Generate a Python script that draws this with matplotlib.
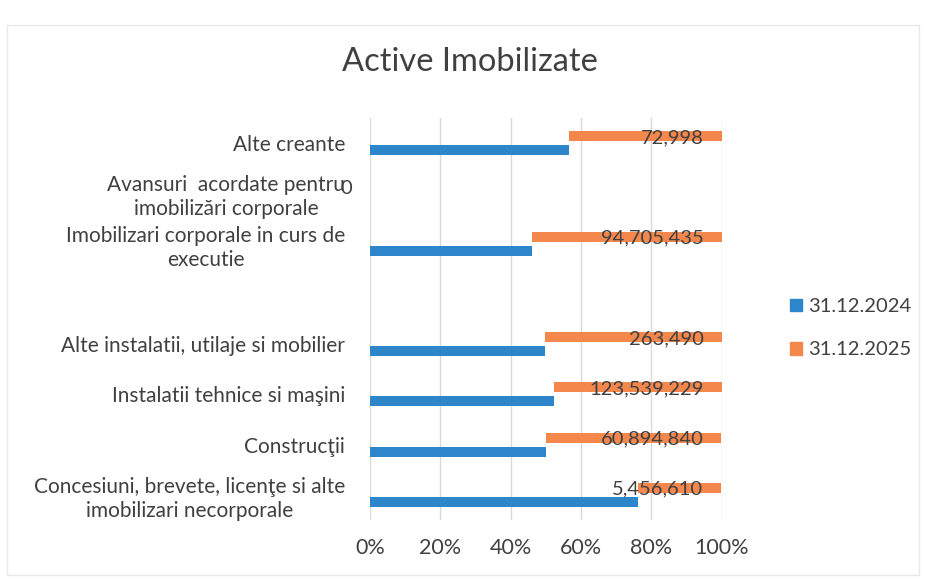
"""
Active Imobilizate - bare 100% suprapuse, 31.12.2024 vs 31.12.2025
"""
import matplotlib
matplotlib.use("Agg")
import matplotlib.pyplot as plt
import numpy as np
from matplotlib.patches import Patch, Rectangle

plt.rcParams["font.family"] = ["Lato", "DejaVu Sans"]

# categorii de jos in sus (ca pe axa)
categories = [
    "Concesiuni, brevete, licenţe si alte\nimobilizari necorporale",
    "Construcţii",
    "Instalatii tehnice si maşini",
    "Alte instalatii, utilaje si mobilier",
    "",
    "Imobilizari corporale in curs de\nexecutie",
    "Avansuri  acordate pentru\nimobilizări corporale",
    "Alte creante",
]
# valori 2024 estimate din lungimea barelor, 2025 citite din etichete
values_2024 = [17567000, 60773000, 136000000, 261400, 0, 81328000, 0, 95200]
values_2025 = [5456610, 60894840, 123539229, 263490, 0, 94705435, 0, 72998]
series_names = ["31.12.2024", "31.12.2025"]
x_ticks = [0, 0.2, 0.4, 0.6, 0.8, 1.0]

BLUE = "#2E86CA"
ORANGE = "#F4874B"
TEXT = "#404040"

fig = plt.figure(figsize=(9.25, 5.79), dpi=100)
ax = fig.add_axes([0.4, 0.102, 0.38, 0.694])

v24 = np.array(values_2024, dtype=float)
v25 = np.array(values_2025, dtype=float)
total = v24 + v25
share_24 = np.divide(v24, total, out=np.zeros_like(total), where=total > 0)
share_25 = np.divide(v25, total, out=np.zeros_like(total), where=total > 0)
y = np.arange(len(categories))
off = 0.14
h = 0.2

has = total > 0
ax.barh(y[has] - off, share_24[has], height=h, color=BLUE, zorder=3)
ax.barh(y[has] + off, share_25[has], left=share_24[has], height=h, color=ORANGE, zorder=3)

# etichete valori 2025
for i in range(len(categories)):
    if has[i]:
        ax.annotate(f"{values_2025[i]:,}", xy=(1.0, y[i] + off), xytext=(-13, -1),
                    textcoords="offset points", ha="right", va="center",
                    fontsize=14.5, color=TEXT, zorder=4)
    elif categories[i]:
        ax.annotate(f"{values_2025[i]:,}", xy=(0, y[i] + off * 0.7), xytext=(-17, 0),
                    textcoords="offset points", ha="center", va="center",
                    fontsize=14.5, color=TEXT, annotation_clip=False, zorder=4)

ax.set_xlim(0, 1.0)
ax.set_ylim(-0.5, len(categories) - 0.5)
ax.set_xticks(x_ticks)
ax.set_xticklabels([f"{int(t * 100)}%" for t in x_ticks])
ax.set_yticks(y)
ax.set_yticklabels(categories, multialignment="center", linespacing=1.25)
ax.tick_params(axis="both", length=0, labelcolor=TEXT)
ax.tick_params(axis="y", pad=18, labelsize=15)
ax.tick_params(axis="x", pad=13, labelsize=15.5)
ax.grid(axis="x", color="#D9D9D9", linewidth=1, zorder=0)
for s in ax.spines.values():
    s.set_visible(False)

fig.text(0.508, 0.893, "Active Imobilizate", ha="center", va="center",
         fontsize=23.5, color=TEXT)

handles = [Patch(color=BLUE), Patch(color=ORANGE)]
fig.legend(handles, series_names, loc="center left", bbox_to_anchor=(0.834, 0.433),
           frameon=False, fontsize=14.5, labelcolor=TEXT, handlelength=0.6,
           handleheight=0.6, handletextpad=0.3, labelspacing=1.3)

# chenarul graficului
fig.patches.append(Rectangle((0.008, 0.007), 0.985, 0.95, transform=fig.transFigure,
                             fill=False, edgecolor="#E8E8E8", linewidth=1))

fig.savefig("out.png", dpi=100, facecolor="white")
